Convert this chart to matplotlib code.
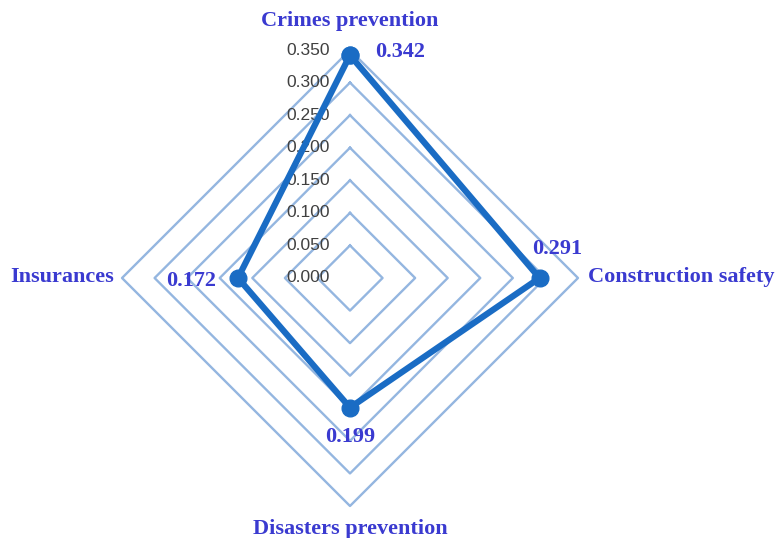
import matplotlib
matplotlib.use("Agg")
import matplotlib.pyplot as plt
import numpy as np

# Datos
categorias = ["Crimes prevention", "Construction safety", "Disasters prevention", "Insurances"]
valores = [0.342, 0.291, 0.199, 0.172]
anillos = [0.05, 0.10, 0.15, 0.20, 0.25, 0.30, 0.35]
etiquetas_eje = ["0.000", "0.050", "0.100", "0.150", "0.200", "0.250", "0.300", "0.350"]

azul_texto = "#3a3ad0"
azul_linea = "#1a6cc4"
azul_grid = "#94b6e0"

# angulos: arriba, derecha, abajo, izquierda (horario)
ang = np.arange(len(categorias)) * 2 * np.pi / len(categorias)
sx = np.sin(ang)
cy = np.cos(ang)

fig = plt.figure(figsize=(7.8, 5.38), dpi=100)
ax = fig.add_axes([0, 0, 1, 1])
esc = 651.4  # px por unidad
ax.set_xlim(-350 / esc, 430 / esc)
ax.set_ylim(-260 / esc, 278 / esc)
ax.axis("off")

# anillos en forma de rombo
for r in anillos:
    xs = np.append(r * sx, r * sx[0])
    ys = np.append(r * cy, r * cy[0])
    ax.plot(xs, ys, color=azul_grid, lw=1.7, zorder=1)

# etiquetas del eje radial
for k, lab in enumerate(etiquetas_eje):
    ax.text(-0.031, k * 0.05, lab, ha="right", va="center", fontsize=12.5,
            family="Liberation Sans", color="#404040", zorder=3)

# serie
v = np.array(valores)
xs = np.append(v * sx, v[0] * sx[0])
ys = np.append(v * cy, v[0] * cy[0])
ax.plot(xs, ys, color=azul_linea, lw=4.5, marker="o", ms=12, zorder=4,
        solid_joinstyle="miter")

fuente = dict(family="Liberation Serif", fontweight="bold", color=azul_texto, fontsize=16)

# etiquetas de categorias
ax.text(0, 0.394, categorias[0], ha="center", va="center", **fuente)
ax.text(0.365, 0.002, categorias[1], ha="left", va="center", **fuente)
ax.text(0, -0.386, categorias[2], ha="center", va="center", **fuente)
ax.text(-0.362, 0.002, categorias[3], ha="right", va="center", **fuente)

# etiquetas de valores
offs = [(0.077, 0.005), (0.027, 0.045), (0.0, -0.045), (-0.072, -0.004)]
for i in range(len(valores)):
    ax.text(v[i] * sx[i] + offs[i][0], v[i] * cy[i] + offs[i][1], "%.3f" % valores[i],
            ha="center", va="center", **fuente)

fig.savefig("out.png", dpi=100)
